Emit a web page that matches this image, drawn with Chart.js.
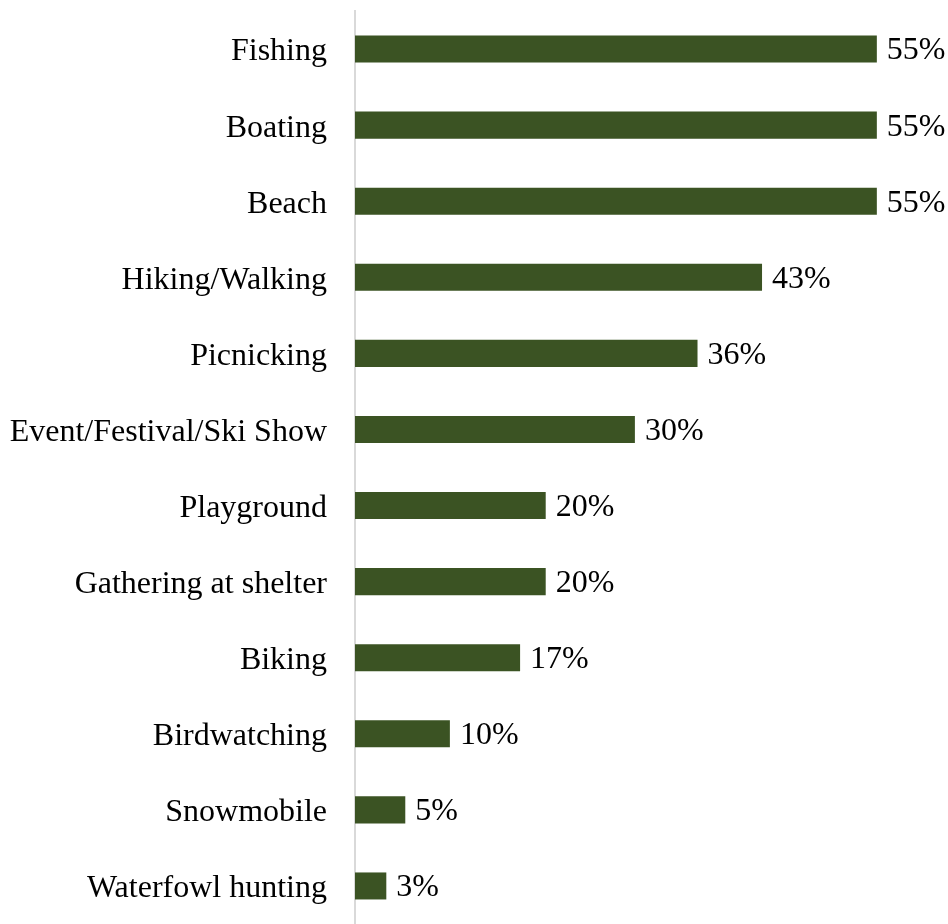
<!DOCTYPE html>
<html>
<head>
<meta charset="utf-8">
<script src="https://cdn.jsdelivr.net/npm/chart.js@4/dist/chart.umd.min.js"></script>
<style>
  html, body { margin: 0; padding: 0; background: #fff; }
  #wrap { width: 948px; height: 924px; }
</style>
</head>
<body>
<div id="wrap"><canvas id="barChart" width="948" height="924"></canvas></div>
<script>
'use strict';

const activities = ['Fishing', 'Boating', 'Beach', 'Hiking/Walking', 'Picnicking',
  'Event/Festival/Ski Show', 'Playground', 'Gathering at shelter', 'Biking',
  'Birdwatching', 'Snowmobile', 'Waterfowl hunting'];
const shares = [55, 55, 55, 42.9, 36.1, 29.5, 20.1, 20.1, 17.4, 10.0, 5.3, 3.3];
const shareLabels = ['55%', '55%', '55%', '43%', '36%', '30%', '20%', '20%', '17%', '10%', '5%', '3%'];

const FONT = 'Liberation Serif, Times New Roman, serif';

// category names left of the axis + value labels at the end of each bar
const textLabels = {
  id: 'textLabels',
  afterDatasetsDraw(chart) {
    const ctx = chart.ctx;
    const meta = chart.getDatasetMeta(0);
    const yScale = chart.scales.y;
    ctx.save();
    ctx.font = '32px ' + FONT;
    ctx.fillStyle = '#000';
    ctx.textBaseline = 'middle';
    ctx.textAlign = 'right';
    activities.forEach(function(name, i) {
      ctx.fillText(name, yScale.right - 28, yScale.getPixelForTick(i) + 3);
    });
    ctx.textAlign = 'left';
    meta.data.forEach(function(bar, i) {
      ctx.fillText(shareLabels[i], bar.x + 10, bar.y + 2);
    });
    ctx.restore();
  }
};

let context = document.querySelector('#barChart').getContext('2d');
new Chart(context, {
  type: 'bar',
  data: {
    labels: activities,
    datasets: [{
      data: shares,
      backgroundColor: '#3b5323',
      borderWidth: 0,
      categoryPercentage: 1,
      barPercentage: 0.355
    }]
  },
  options: {
    indexAxis: 'y',
    responsive: false,
    animation: false,
    layout: { padding: { top: 11, bottom: -3, left: 10, right: 0 } },
    plugins: {
      legend: { display: false },
      tooltip: { enabled: false }
    },
    scales: {
      x: {
        min: 0,
        max: 62.5,
        display: false
      },
      y: {
        grid: { display: false, drawTicks: false },
        border: { display: true, color: '#d9d9d9', width: 2 },
        ticks: { display: false },
        afterFit: function(scale) {
          scale.width = 345;
          scale.paddingTop = 0;
          scale.paddingBottom = 0;
        }
      }
    }
  },
  plugins: [textLabels]
});
</script>
</body>
</html>
